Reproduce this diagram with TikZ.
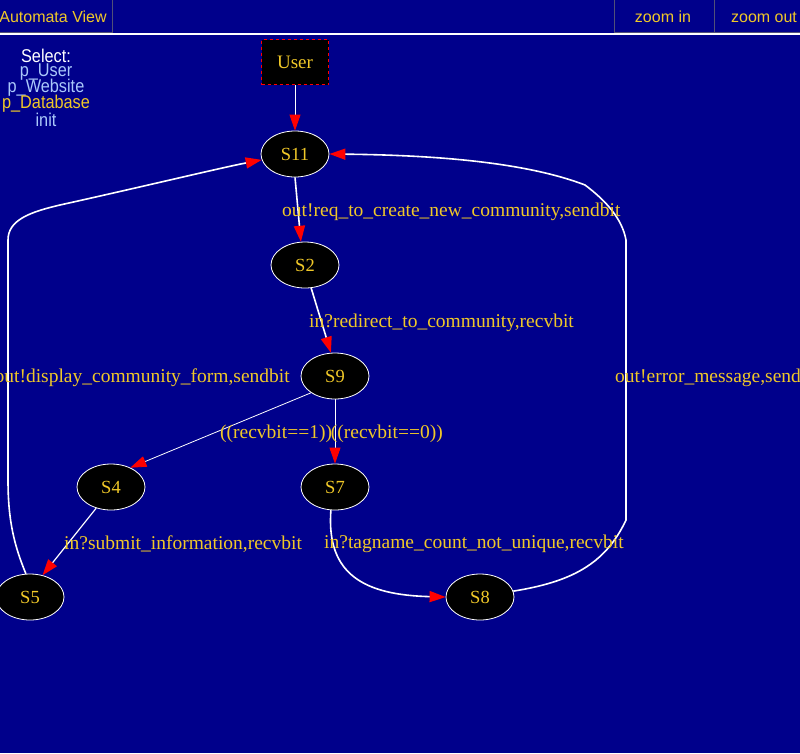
\documentclass[tikz,border=0pt]{standalone}
\usepackage{fontspec}
\setmainfont{Liberation Serif}
\newfontfamily\uisans{Liberation Sans}
\newfontfamily\menufont[FakeStretch=0.88]{Liberation Sans}
\usetikzlibrary{shapes.geometric,arrows.meta}
\definecolor{bg}{RGB}{0,0,139}
\definecolor{gold}{RGB}{240,200,40}
\definecolor{menublue}{RGB}{170,200,250}
\definecolor{btnborder}{RGB}{80,80,120}
\begin{document}
\begin{tikzpicture}[x=1pt,y=-1pt,
  state/.style={ellipse,draw=white,fill=black,text=gold,minimum width=68pt,minimum height=46pt,inner sep=0pt,font=\fontsize{18.5}{20}\selectfont,line width=0.8pt},
  initbox/.style={rectangle,draw=red,dashed,fill=black,text=gold,minimum width=67pt,minimum height=45pt,inner sep=0pt,font=\fontsize{19}{20}\selectfont,line width=0.7pt},
  lbl/.style={text=gold,font=\fontsize{19.5}{20}\selectfont,inner sep=0pt},
  tr/.style={draw=white,line width=1.6pt,-{Triangle[length=16pt,width=11pt,color=red]}},
  trthin/.style={tr,line width=0.8pt},
  trmid/.style={tr,line width=1.2pt},
  btn/.style={text=gold,font=\uisans\fontsize{16}{18}\selectfont,inner sep=0pt},
  btnbox/.style={draw=btnborder,line width=1pt},
  menu/.style={font=\menufont\fontsize{18.5}{18}\selectfont,inner sep=0pt}]
\useasboundingbox (0,0) rectangle (800,753);
\clip (0,0) rectangle (800,753);
\fill[bg] (0,0) rectangle (800,753);
% top bar
\draw[btnbox] (-5,-1) rectangle (112,32);
\draw[btnbox] (614,-1) rectangle (714,32);
\draw[btnbox] (714,-1) rectangle (805,32);
\node[btn] (bview) at (53,17) {Automata View};
\node[btn] (bzin) at (663,17) {zoom in};
\node[btn] (bzout) at (764,17) {zoom out};
\draw[white,line width=2pt] (0,34) -- (800,34);
% menu
\node[menu,text=white] (msel) at (46,56) {Select:};
\node[menu,text=menublue] (muser) at (46,72) {p\_User};
\node[menu,text=menublue] (mweb) at (46,88) {p\_Website};
\node[menu,text=gold] (mdb) at (46,104) {p\_Database};
\node[menu,text=menublue] (minit) at (46,120) {init};
% nodes
\node[initbox] (user) at (295,62) {User};
\node[state] (s11) at (295,154) {S11};
\node[state] (s2) at (305,265) {S2};
\node[state] (s9) at (335,376) {S9};
\node[state] (s4) at (111,487) {S4};
\node[state] (s7) at (335,487) {S7};
\node[state] (s5) at (30,597) {S5};
\node[state] (s8) at (480,597) {S8};
% edges
\draw[trthin] (user) -- (s11);
\draw[tr] (s11.270) -- (s2.100);
\draw[tr] (s2.285) -- (s9.100);
\draw[trthin] (s9.215) -- (s4.45);
\draw[trthin] (s9.270) -- (s7.90);
\draw[trmid] (s4.235) -- (s5.60);
\draw[tr] (s7.260) .. controls (326,575) and (365,595) .. (s8.west);
\draw[tr] (s8.10) .. controls (570,582) and (605,565) .. (626,520) -- (626,240)
  .. controls (622,218) and (605,200) .. (585,185)
  .. controls (520,160) and (420,155) .. (s11.east);
\draw[tr] (s5.100) .. controls (14,545) and (8,520) .. (8,480) -- (8,240)
  .. controls (8,220) and (30,212) .. (60,205)
  .. controls (150,185) and (220,168) .. (s11.190);
% labels
\node[lbl,anchor=west] (l1) at (282,212) {out!req\_to\_create\_new\_community,sendbit};
\node[lbl,anchor=west] (l2) at (309,323) {in?redirect\_to\_community,recvbit};
\node[lbl,anchor=east] (l3) at (290,378) {out!display\_community\_form,sendbit};
\node[lbl,anchor=west] (l4) at (220,434) {((recvbit==1))};
\node[lbl,anchor=east] (l5) at (443,434) {((recvbit==0))};
\node[lbl,anchor=west] (l6) at (64,544) {in?submit\_information,recvbit};
\node[lbl,anchor=west] (l7) at (324,544) {in?tagname\_count\_not\_unique,recvbit};
\node[lbl,anchor=west] (l8) at (615,378) {out!error\_message,sendbit};
\end{tikzpicture}
\end{document}
